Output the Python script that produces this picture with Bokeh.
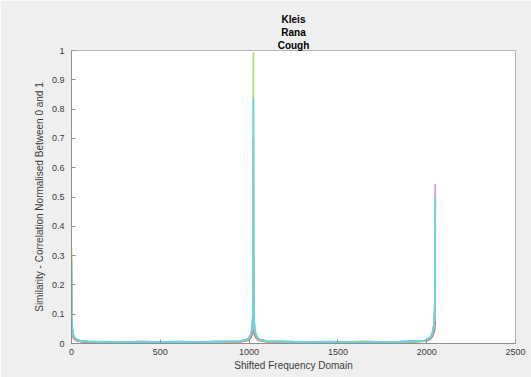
from bokeh.plotting import figure
from bokeh.models import FixedTicker, Title, ColumnDataSource
from bokeh.embed import file_html
from bokeh.resources import INLINE

# ---- data ----
x_vals = [0, 2, 5, 10, 18, 30, 50, 90, 200, 400, 600, 800, 950, 995,
          1010, 1017, 1021, 1023, 1024, 1025, 1027, 1031, 1038, 1053,
          1100, 1250, 1450, 1650, 1850, 1990,
          2020, 2032, 2040, 2044, 2046, 2047, 2048]

s_blue = [0.15, 0.06, 0.04, 0.025, 0.016, 0.011, 0.008, 0.006, 0.005, 0.006, 0.004, 0.006, 0.007, 0.013,
          0.025, 0.04, 0.07, 0.12, 0.30, 0.12, 0.07, 0.04, 0.025, 0.013,
          0.007, 0.005, 0.006, 0.004, 0.006, 0.009,
          0.018, 0.03, 0.05, 0.075, 0.11, 0.15, 0.22]
s_orange = [0.10, 0.05, 0.035, 0.022, 0.015, 0.01, 0.007, 0.005, 0.004, 0.005, 0.005, 0.004, 0.006, 0.012,
            0.022, 0.035, 0.06, 0.10, 0.25, 0.10, 0.06, 0.035, 0.022, 0.012,
            0.006, 0.004, 0.005, 0.005, 0.004, 0.008,
            0.016, 0.028, 0.045, 0.065, 0.095, 0.13, 0.18]
s_yellow = [0.33, 0.08, 0.045, 0.028, 0.018, 0.012, 0.009, 0.006, 0.005, 0.004, 0.006, 0.005, 0.006, 0.014,
            0.028, 0.045, 0.08, 0.15, 0.60, 0.15, 0.08, 0.045, 0.028, 0.014,
            0.006, 0.005, 0.004, 0.006, 0.005, 0.009,
            0.019, 0.032, 0.055, 0.08, 0.12, 0.17, 0.30]
s_purple = [0.22, 0.07, 0.04, 0.026, 0.017, 0.012, 0.008, 0.006, 0.004, 0.005, 0.005, 0.006, 0.007, 0.015,
            0.03, 0.048, 0.085, 0.17, 0.70, 0.17, 0.085, 0.048, 0.03, 0.015,
            0.007, 0.005, 0.005, 0.006, 0.004, 0.01,
            0.02, 0.035, 0.06, 0.09, 0.14, 0.22, 0.545]
s_green = [0.30, 0.09, 0.05, 0.03, 0.02, 0.014, 0.01, 0.007, 0.005, 0.006, 0.005, 0.006, 0.008, 0.015,
           0.03, 0.05, 0.09, 0.20, 0.994, 0.20, 0.09, 0.05, 0.03, 0.015,
           0.008, 0.006, 0.005, 0.006, 0.005, 0.01,
           0.02, 0.035, 0.06, 0.09, 0.14, 0.20, 0.40]
s_red = [0.08, 0.045, 0.03, 0.02, 0.014, 0.01, 0.007, 0.005, 0.004, 0.004, 0.005, 0.004, 0.006, 0.011,
         0.02, 0.03, 0.045, 0.06, 0.09, 0.06, 0.045, 0.03, 0.02, 0.011,
         0.006, 0.004, 0.004, 0.005, 0.004, 0.008,
         0.015, 0.024, 0.035, 0.045, 0.055, 0.065, 0.08]
s_cyan = [0.28, 0.085, 0.048, 0.03, 0.019, 0.013, 0.009, 0.007, 0.006, 0.005, 0.006, 0.005, 0.008, 0.015,
          0.03, 0.05, 0.09, 0.19, 0.84, 0.19, 0.09, 0.05, 0.03, 0.015,
          0.008, 0.006, 0.005, 0.005, 0.006, 0.01,
          0.02, 0.035, 0.06, 0.09, 0.14, 0.20, 0.50]

series = [s_blue, s_orange, s_red, s_yellow, s_purple, s_green, s_cyan]
colors = ["#3a8fd0", "#e07a4a", "#b8485e", "#f0c04a", "#d08fd8", "#a6dc66", "#5fd4f5"]
alphas = [0.8, 0.7, 0.6, 0.85, 0.9, 0.9, 0.9]

x_ticks = [0, 500, 1000, 1500, 2000, 2500]
y_ticks = [0, 0.1, 0.2, 0.3, 0.4, 0.5, 0.6, 0.7, 0.8, 0.9, 1]
y_tick_labels = ["0", "0.1", "0.2", "0.3", "0.4", "0.5", "0.6", "0.7", "0.8", "0.9", "1"]
title_lines = ["Kleis", "Rana", "Cough"]

FONT = "Liberation Sans"

p = figure(width=531, height=377, x_range=(0, 2500), y_range=(0, 1),
           output_backend="svg", toolbar_location=None,
           min_border_left=71, min_border_right=16, min_border_top=50, min_border_bottom=34)

p.border_fill_color = "#efefef"
p.background_fill_color = "white"
p.outline_line_color = "#b4b4b4"
p.grid.visible = False

for ys, c, a in zip(series, colors, alphas):
    src = ColumnDataSource(dict(x=x_vals, y=ys))
    p.line("x", "y", source=src, line_color=c, line_width=1.8, line_alpha=a)

# title: p.title is outermost; panels in p.above are stacked from the frame outward
p.title.text = title_lines[0]
for t in [title_lines[2], title_lines[1]]:
    p.add_layout(Title(text=t), "above")
for t in [p.title] + list(p.above):
    t.align = "center"
    t.text_font = FONT
    t.text_font_size = "10px"
    t.text_font_style = "bold"
    t.text_color = "black"
    t.standoff = 0
    t.offset = 0

p.xaxis.ticker = FixedTicker(ticks=x_ticks)
p.yaxis.ticker = FixedTicker(ticks=y_ticks)
p.yaxis.major_label_overrides = {v: s for v, s in zip(y_ticks, y_tick_labels)}
p.xaxis.major_label_overrides = {v: str(v) for v in x_ticks}

for ax in [p.xaxis[0], p.yaxis[0]]:
    ax.major_tick_in = 4
    ax.major_tick_out = 0
    ax.minor_tick_in = 0
    ax.minor_tick_out = 0
    ax.axis_line_color = "#8f8f8f"
    ax.major_tick_line_color = "#8f8f8f"
    ax.major_label_text_font = FONT
    ax.major_label_text_font_size = "9px"
    ax.major_label_text_color = "#3c3c3c"
    ax.axis_label_text_font = FONT
    ax.axis_label_text_font_size = "10px"
    ax.axis_label_text_font_style = "normal"
    ax.axis_label_text_color = "#3c3c3c"

p.xaxis.axis_label = "Shifted Frequency Domain"
p.yaxis.axis_label = "Similarity - Correlation Normalised Between 0 and 1"
p.xaxis.major_label_standoff = 5
p.xaxis.axis_label_standoff = 2
p.yaxis.major_label_standoff = 7
p.yaxis.axis_label_standoff = 4

open("out.html", "w").write(file_html(p, INLINE))
